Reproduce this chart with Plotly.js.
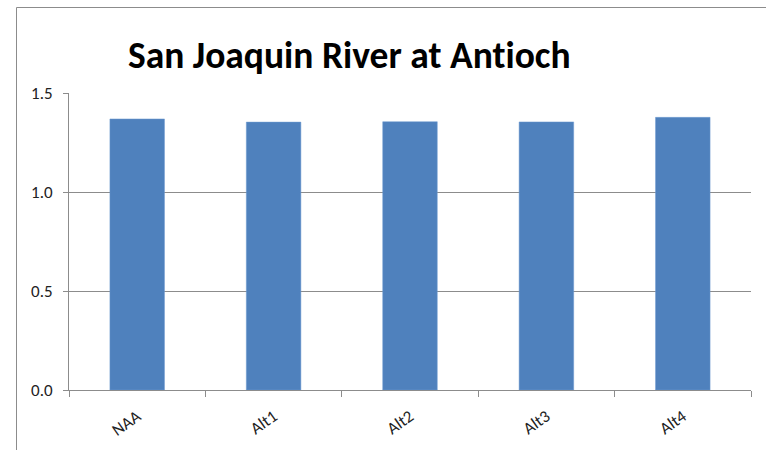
<!DOCTYPE html>
<html>
<head>
<meta charset="utf-8">
<script src="https://cdn.plot.ly/plotly-3.0.1.min.js"></script>
<style>
  html, body { margin:0; background:#fff; overflow:hidden; }
  #graph { width:766px; height:450px; }
  #graph text { font-variant-ligatures: none; font-feature-settings: "liga" 0, "clig" 0; }
</style>
</head>
<body>
<div id="graph"></div>
<script>
// values
const categories = ['NAA', 'Alt1', 'Alt2', 'Alt3', 'Alt4'];
const values = [1.369, 1.353, 1.355, 1.354, 1.377];
const yTicks = [0, 0.5, 1.0, 1.5];

const W = 766, H = 450;
const M = { l: 69, r: 15, t: 93, b: 60 };
// outer chart-area border (left and top edges only), in pixels -> paper coords
const px = x => (x - M.l) / (W - M.l - M.r);
const py = y => (H - M.b - y) / (H - M.t - M.b);
const edge = { color: '#8c8c8c', width: 1 };

const trace = {
  type: 'bar',
  x: categories,
  y: values,
  marker: { color: '#4f81bd', line: { color: '#6f9bd0', width: 0.5 } },
  hoverinfo: 'x+y'
};

const layout = {
  width: W, height: H,
  margin: M,
  paper_bgcolor: '#fff',
  plot_bgcolor: '#fff',
  showlegend: false,
  bargap: 0.6,
  font: { family: 'Carlito, Open Sans, sans-serif', size: 17, color: '#222' },
  title: {
    text: '<b>San Joaquin River at Antioch</b>',
    font: { family: 'Carlito, Open Sans, sans-serif', size: 37.5, color: '#000' },
    xref: 'container', x: 0.456, xanchor: 'center',
    yref: 'container', y: 0.878, yanchor: 'middle'
  },
  shapes: [
    { type: 'line', xref: 'paper', yref: 'paper', layer: 'below',
      x0: px(16.5), x1: px(W + 2), y0: py(7.5), y1: py(7.5), line: edge },
    { type: 'line', xref: 'paper', yref: 'paper', layer: 'below',
      x0: px(16.5), x1: px(16.5), y0: py(7.5), y1: py(H + 2), line: edge }
  ],
  xaxis: {
    type: 'category',
    showline: true, linecolor: '#8c8c8c', linewidth: 1,
    ticks: 'outside', tickson: 'boundaries', ticklen: 6, tickcolor: '#8c8c8c',
    tickangle: -35,
    ticklabelstandoff: 9,
    tickfont: { size: 17 },
    showgrid: false, zeroline: false
  },
  yaxis: {
    range: [0, 1.5],
    tickvals: yTicks,
    tickformat: '.1f',
    showline: true, linecolor: '#8c8c8c', linewidth: 1,
    ticks: 'outside', ticklen: 5, tickcolor: '#8c8c8c',
    ticklabelstandoff: 7,
    showgrid: true, gridcolor: '#8c8c8c', gridwidth: 1,
    zeroline: false,
    tickfont: { size: 17 }
  }
};

Plotly.newPlot('graph', [trace], layout, { displayModeBar: false, staticPlot: true });
</script>
</body>
</html>
